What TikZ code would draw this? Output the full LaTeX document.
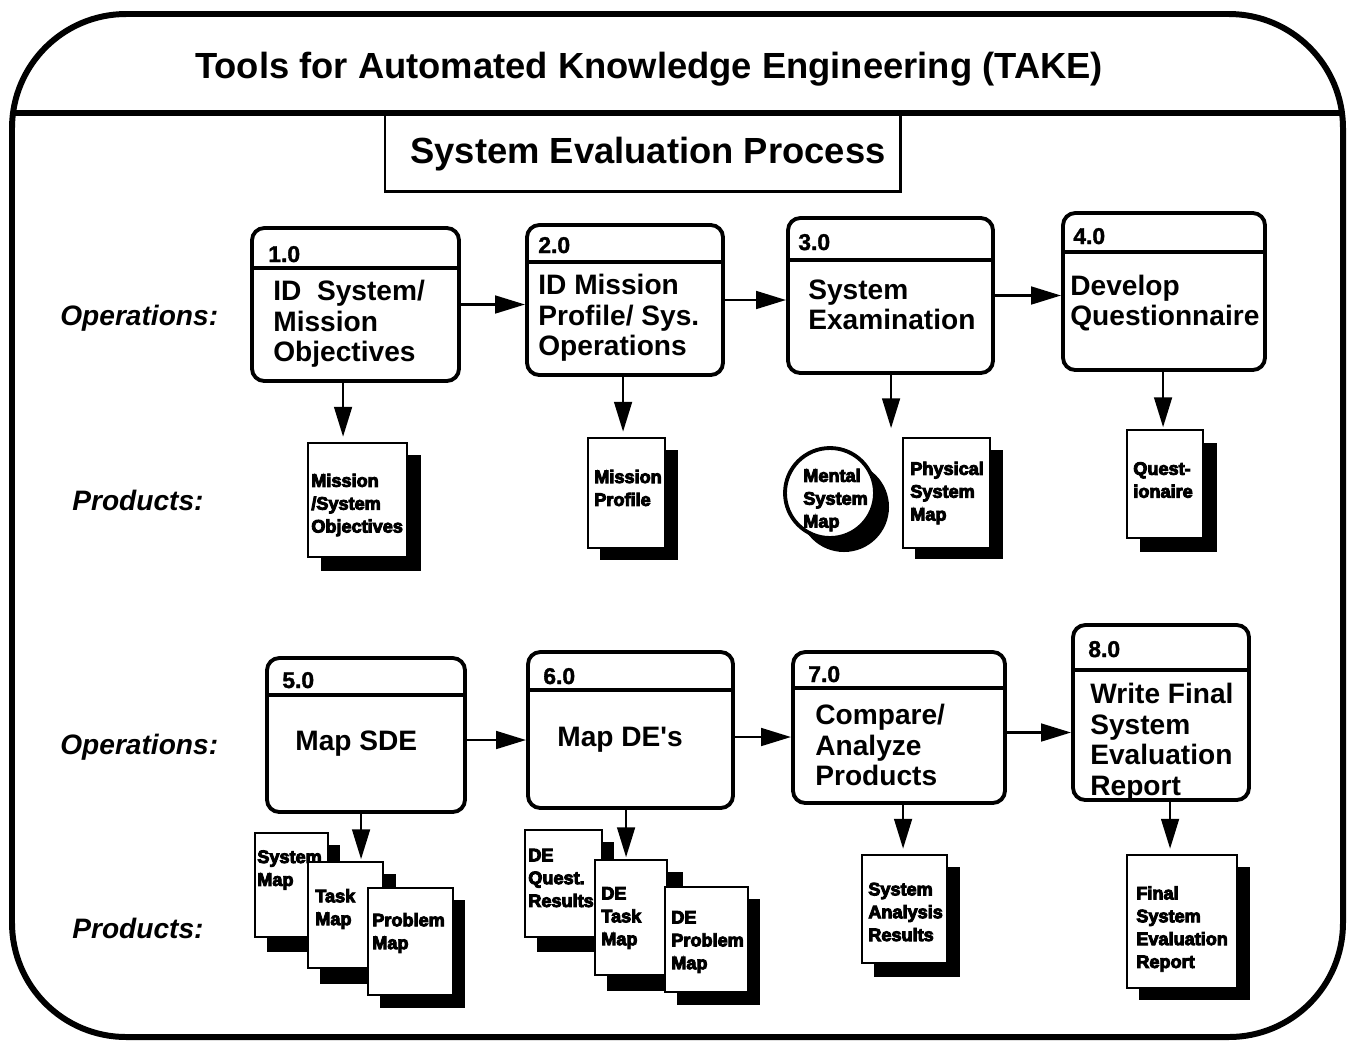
\documentclass[tikz,border=0pt]{standalone}
\usepackage{fontspec}
\setmainfont{Liberation Sans}
\newfontfamily\boxfont{Liberation Sans}
\newfontfamily\heavy{Liberation Sans Bold}[FakeBold=5]
\newfontfamily\numfont{Liberation Sans Bold}[FakeBold=1.5]
\usetikzlibrary{arrows.meta,fit,calc}
\begin{document}
\begin{tikzpicture}[x=0.02cm,y=-0.02cm,
  frame/.style={line width=3.4pt, rounded corners=65pt},
  procbox/.style={draw, line width=2.2pt, rounded corners=7pt, inner sep=0pt},
  hdr/.style={line width=1.8pt},
  doc/.style={draw, fill=white, line width=1.1pt, inner sep=0pt},
  shadow/.style={fill=black},
  arr/.style={line width=1.6pt, -{Triangle[length=17pt,width=10pt]}},
  numtxt/.style={font=\numfont\fontsize{13pt}{14pt}\selectfont, anchor=base west, inner sep=0pt},
  boxtxt/.style={font=\boxfont\bfseries\fontsize{16pt}{17.4pt}\selectfont, align=left, anchor=west, inner sep=0pt},
  doctxt/.style={font=\heavy\fontsize{10.3pt}{13pt}\selectfont, align=left, anchor=west, inner sep=0pt},
  side/.style={font=\bfseries\itshape\fontsize{16pt}{18pt}\selectfont, anchor=west, inner sep=0pt},
  big/.style={font=\bfseries\fontsize{20.7pt}{24pt}\selectfont, anchor=base, inner sep=0pt}]
\useasboundingbox (0,0) rectangle (1355,1046);

% outer frame and title band
\draw[frame] (12,14) rectangle (1343,1037);
\draw[line width=3.2pt] (13,113) -- (1342,113);
\node[big] (title) at (649,78) {Tools for Automated Knowledge Engineering (TAKE)};
\node[draw, line width=1.7pt, inner sep=0pt, fit={(385,113) (900,191)}] (sub) {};
\node[big] (subt) at (648,163) {System Evaluation Process};

% side labels
\node[side] (op1) at (60,318) {Operations:};
\node[side] (pr1) at (72,500) {Products:};
\node[side] (op2) at (60,747) {Operations:};
\node[side] (pr2) at (72,928) {Products:};

% process boxes, top row
\node[procbox, fit={(252,228) (459,381)}] (p1) {};
\draw[hdr] (252,268) -- (459,268);
\node[numtxt] (n1) at (268,262) {1.0};
\node[boxtxt] (t1) at (273,324) {ID\ \ System/\\Mission\\Objectives};

\node[procbox, fit={(527,225) (723,375)}] (p2) {};
\draw[hdr] (527,262) -- (723,262);
\node[numtxt] (n2) at (538,253) {2.0};
\node[boxtxt] (t2) at (538,318) {ID Mission\\Profile/ Sys.\\Operations};

\node[procbox, fit={(788,218) (993,373)}] (p3) {};
\draw[hdr] (788,260) -- (993,260);
\node[numtxt] (n3) at (798,250) {3.0};
\node[boxtxt] (t3) at (808,305) {System\\Examination};

\node[procbox, fit={(1063,213) (1265,370)}] (p4) {};
\draw[hdr] (1063,252) -- (1265,252);
\node[numtxt] (n4) at (1073,244) {4.0};
\node[boxtxt] (t4) at (1070,303) {Develop\\Questionnaire};

% process boxes, bottom row
\node[procbox, fit={(267,658) (465,812)}] (p5) {};
\draw[hdr] (267,695) -- (465,695);
\node[numtxt] (n5) at (282,688) {5.0};
\node[boxtxt] (t5) at (295,744) {Map SDE};

\node[procbox, fit={(528,652) (733,808)}] (p6) {};
\draw[hdr] (528,690) -- (733,690);
\node[numtxt] (n6) at (543,684) {6.0};
\node[boxtxt] (t6) at (557,740) {Map DE's};

\node[procbox, fit={(793,652) (1005,803)}] (p7) {};
\draw[hdr] (793,688) -- (1005,688);
\node[numtxt] (n7) at (808,682) {7.0};
\node[boxtxt] (t7) at (815,745) {Compare/\\Analyze\\Products};

\node[procbox, fit={(1073,625) (1249,800)}] (p8) {};
\draw[hdr] (1073,670) -- (1249,670);
\node[numtxt] (n8) at (1088,657) {8.0};
\node[boxtxt] (t8) at (1090,742) {Write Final\\System\\Evaluation\\Report};

% products, top row
\fill[shadow] (321,455) rectangle (421,571);
\node[doc, fit={(308,443) (407,557)}] (d1) {};
\node[doctxt] (dt1) at (311,505) {Mission\\/System\\Objectives};

\fill[shadow] (600,450) rectangle (678,560);
\node[doc, fit={(588,438) (665,548)}] (d2) {};
\node[doctxt] (dt2) at (594,488) {Mission\\Profile};

\fill[shadow] (844,507) circle (45);
\node[draw, fill=white, circle, line width=2.2pt, inner sep=0pt, minimum size=1.8cm] (m3) at (830,493) {};
\node[doctxt] (mt3) at (803,500) {Mental\\System\\Map};

\fill[shadow] (915,450) rectangle (1003,559);
\node[doc, fit={(903,438) (990,548)}] (d3) {};
\node[doctxt] (dt3) at (910,493) {Physical\\System\\Map};

\fill[shadow] (1140,443) rectangle (1217,552);
\node[doc, fit={(1127,430) (1203,538)}] (d4) {};
\node[doctxt] (dt4) at (1133,480) {Quest-\\ionaire};

% products, bottom row
\fill[shadow] (267,845) rectangle (340,952);
\node[doc, fit={(255,833) (328,937)}] (d5a) {};
\node[doctxt] (dt5a) at (257,870) {System\\Map};
\fill[shadow] (320,874) rectangle (396,984);
\node[doc, fit={(308,862) (383,968)}] (d5b) {};
\node[doctxt] (dt5b) at (315,909) {Task\\Map};
\fill[shadow] (380,900) rectangle (465,1008);
\node[doc, fit={(368,888) (453,995)}] (d5c) {};
\node[doctxt] (dt5c) at (372,933) {Problem\\Map};

\fill[shadow] (537,842) rectangle (614,952);
\node[doc, fit={(525,830) (602,937)}] (d6a) {};
\node[doctxt] (dt6a) at (528,878) {DE\\Quest.\\Results};
\fill[shadow] (607,872) rectangle (683,991);
\node[doc, fit={(595,860) (667,975)}] (d6b) {};
\node[doctxt] (dt6b) at (601,918) {DE\\Task\\Map};
\fill[shadow] (677,899) rectangle (760,1005);
\node[doc, fit={(665,887) (748,992)}] (d6c) {};
\node[doctxt] (dt6c) at (671,942) {DE\\Problem\\Map};

\fill[shadow] (874,867) rectangle (960,977);
\node[doc, fit={(862,855) (947,963)}] (d7) {};
\node[doctxt] (dt7) at (868,912) {System\\Analysis\\Results};

\fill[shadow] (1139,867) rectangle (1250,1000);
\node[doc, fit={(1127,855) (1237,988)}] (d8) {};
\node[doctxt] (dt8) at (1136,929) {Final\\System\\Evaluation\\Report};

% horizontal connectors
\draw[arr] (p1.east) -- (p1.east -| p2.west);
\draw[arr] (p2.east) -- (p2.east -| p3.west);
\draw[arr] (p3.east) -- (p3.east -| p4.west);
\draw[arr] ($(p5.east)+(0,5)$) -- ($(p5.east -| p6.west)+(0,5)$);
\draw[arr] ($(p6.east)+(0,7)$) -- ($(p6.east -| p7.west)+(0,7)$);
\draw[arr] ($(p7.east)+(0,5)$) -- ($(p7.east -| p8.west)+(0,5)$);

% vertical connectors
\coordinate (a1) at ($(p1.south west)+(93,0)$);
\coordinate (a2) at ($(p2.south west)+(98,0)$);
\coordinate (a3) at ($(p3.south west)+(105,0)$);
\coordinate (a4) at ($(p4.south west)+(102,0)$);
\coordinate (a5) at ($(p5.south west)+(96,0)$);
\coordinate (a6) at ($(p6.south west)+(100,0)$);
\coordinate (a7) at ($(p7.south west)+(112,0)$);
\coordinate (a8) at ($(p8.south west)+(99,0)$);
\draw[arr, shorten >=3pt] (a1) -- (a1 |- d1.north);
\draw[arr, shorten >=3pt] (a2) -- (a2 |- d2.north);
\draw[arr, shorten >=5pt] (a3) -- (a3 |- d3.north);
\draw[arr, shorten >=1pt] (a4) -- (a4 |- d4.north);
\draw[arr, shorten >=1pt] (a5) -- (a5 |- d5b.north);
\draw[arr, shorten >=1pt] (a6) -- (a6 |- d6b.north);
\draw[arr, shorten >=3pt] (a7) -- (a7 |- d7.north);
\draw[arr, shorten >=3pt] (a8) -- (a8 |- d8.north);
\end{tikzpicture}
\end{document}
